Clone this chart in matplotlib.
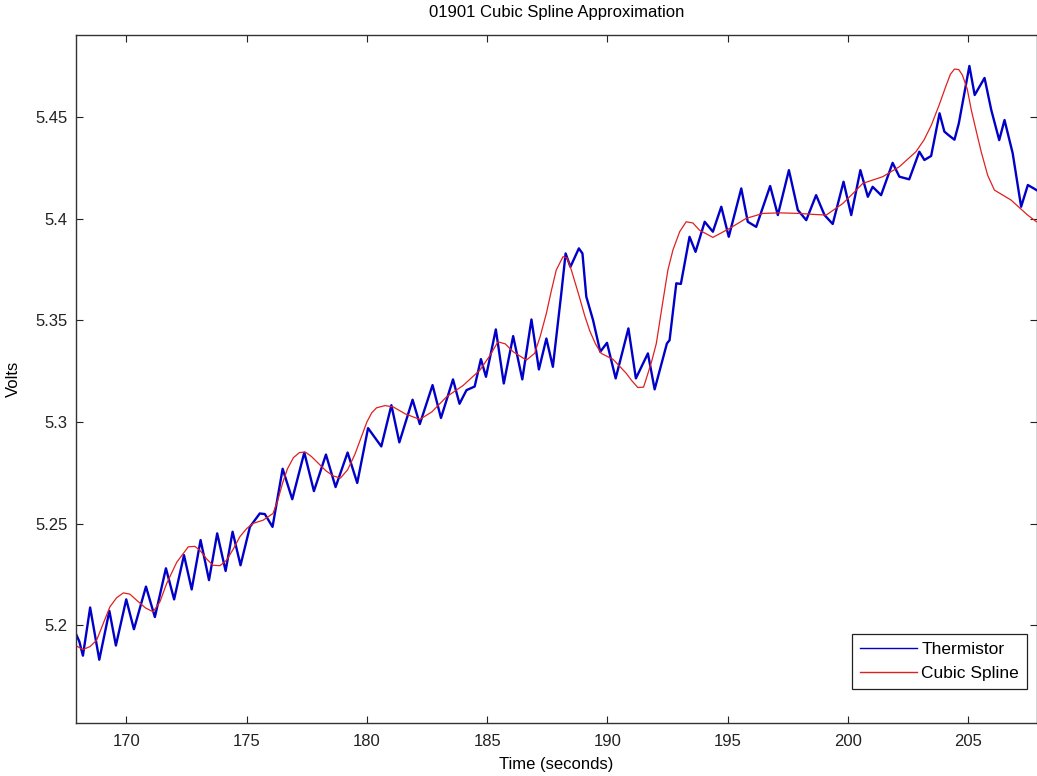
import numpy as np
import matplotlib
matplotlib.use("Agg")
from matplotlib import pyplot as plt

plt.rcParams['font.family'] = ['Liberation Sans', 'DejaVu Sans']

# thermistor trace (seconds, volts)
therm_t = [167.9, 168.05, 168.2, 168.5, 168.88, 169.3, 169.57, 170.0, 170.32, 170.82,
           171.19, 171.65, 171.99, 172.4, 172.72, 173.09, 173.44, 173.78, 174.13, 174.42,
           174.75, 175.14, 175.55, 175.76, 176.08, 176.5, 176.9, 177.4, 177.8, 178.3,
           178.7, 179.2, 179.6, 180.05, 180.6, 181.02, 181.35, 181.9, 182.2, 182.73,
           183.08, 183.58, 183.85, 184.14, 184.48, 184.74, 184.95, 185.36, 185.69, 186.08,
           186.46, 186.84, 187.15, 187.46, 187.73, 188.08, 188.26, 188.46, 188.81, 188.96,
           189.12, 189.4, 189.7, 189.98, 190.34, 190.87, 191.18, 191.68, 191.96, 192.47,
           192.58, 192.86, 193.05, 193.41, 193.66, 194.04, 194.38, 194.73, 195.04, 195.56,
           195.83, 196.18, 196.76, 197.08, 197.54, 197.91, 198.26, 198.67, 199.02, 199.36,
           199.81, 200.13, 200.51, 200.82, 201.02, 201.37, 201.85, 202.13, 202.54, 202.96,
           203.17, 203.45, 203.8, 204.0, 204.2, 204.42, 204.6, 205.04, 205.26, 205.67,
           205.95, 206.28, 206.5, 206.84, 207.19, 207.47, 207.83]
therm_v = [5.196, 5.192, 5.185, 5.2087, 5.183, 5.207, 5.190, 5.2127, 5.198, 5.219,
           5.204, 5.228, 5.2127, 5.2345, 5.2176, 5.2419, 5.2222, 5.2452, 5.2267, 5.246,
           5.2295, 5.2484, 5.255, 5.2547, 5.2484, 5.277, 5.262, 5.285, 5.266, 5.284,
           5.268, 5.285, 5.270, 5.297, 5.288, 5.3083, 5.290, 5.311, 5.299, 5.3182,
           5.302, 5.321, 5.309, 5.3157, 5.3175, 5.331, 5.3223, 5.3456, 5.319, 5.3423,
           5.321, 5.3505, 5.3259, 5.3411, 5.3272, 5.3633, 5.383, 5.3764, 5.3855, 5.383,
           5.3617, 5.3502, 5.3346, 5.339, 5.3215, 5.3461, 5.3215, 5.3338, 5.3161, 5.3387,
           5.3403, 5.3683, 5.368, 5.3912, 5.3838, 5.3986, 5.3937, 5.406, 5.3912, 5.415,
           5.3986, 5.3961, 5.4162, 5.4019, 5.424, 5.4044, 5.3994, 5.4117, 5.4019, 5.3975,
           5.4183, 5.4019, 5.424, 5.4109, 5.4158, 5.4117, 5.4276, 5.4208, 5.4195, 5.4331,
           5.429, 5.431, 5.452, 5.443, 5.441, 5.439, 5.447, 5.4753, 5.461, 5.4694,
           5.4536, 5.4388, 5.4487, 5.4323, 5.406, 5.4167, 5.4142]

# cubic spline curve
spline_t = [167.9, 168.2, 168.5, 168.77, 169.05, 169.32, 169.6, 169.88, 170.15, 170.43,
            170.8, 171.12, 171.4, 171.68, 172.1, 172.58, 172.85, 173.06, 173.35, 173.61,
            173.9, 174.17, 174.45, 174.72, 175.0, 175.27, 175.69, 176.1, 176.3, 176.5,
            176.7, 176.95, 177.2, 177.45, 177.7, 178.0, 178.3, 178.6, 178.9, 179.2,
            179.5, 179.75, 180.0, 180.2, 180.4, 180.75, 181.09, 181.6, 182.2, 182.7,
            183.31, 184.0, 184.7, 185.1, 185.45, 185.75, 186.08, 186.63, 186.97, 187.2,
            187.46, 187.67, 187.87, 188.15, 188.32, 188.5, 188.84, 189.05, 189.26, 189.5,
            189.74, 190.23, 190.78, 191.0, 191.26, 191.5, 191.68, 191.85, 192.03, 192.27,
            192.51, 192.72, 193.0, 193.27, 193.55, 193.82, 194.38, 195.07, 195.77, 196.46,
            197.15, 197.98, 198.6, 199.09, 199.78, 200.2, 200.61, 201.44, 202.13, 202.82,
            203.16, 203.46, 203.78, 204.08, 204.25, 204.42, 204.6, 204.75, 204.95, 205.12,
            205.33, 205.53, 205.8, 206.08, 206.77, 207.46, 207.83]
spline_v = [5.190, 5.188, 5.1895, 5.1926, 5.201, 5.209, 5.2135, 5.2159, 5.2153, 5.2123,
            5.2085, 5.2066, 5.2115, 5.2205, 5.231, 5.2386, 5.2388, 5.2369, 5.2325, 5.2295,
            5.2293, 5.232, 5.2375, 5.2435, 5.2475, 5.2501, 5.2517, 5.255, 5.2616, 5.27,
            5.277, 5.2825, 5.285, 5.2852, 5.283, 5.2795, 5.276, 5.2735, 5.2724, 5.2765,
            5.284, 5.292, 5.300, 5.3045, 5.307, 5.3081, 5.3075, 5.304, 5.3013, 5.305,
            5.3124, 5.318, 5.3256, 5.3325, 5.3395, 5.3385, 5.3346, 5.3305, 5.3338, 5.342,
            5.3535, 5.3648, 5.3748, 5.3814, 5.3808, 5.3748, 5.3613, 5.3525, 5.345, 5.3385,
            5.3338, 5.3309, 5.324, 5.3205, 5.317, 5.3172, 5.3239, 5.3305, 5.3387, 5.357,
            5.3748, 5.3847, 5.3937, 5.3986, 5.398, 5.3945, 5.3909, 5.3953, 5.4003, 5.4027,
            5.403, 5.4027, 5.4022, 5.4019, 5.4076, 5.4125, 5.4175, 5.4208, 5.4257, 5.4331,
            5.439, 5.4462, 5.456, 5.4659, 5.4712, 5.4738, 5.4735, 5.4708, 5.464, 5.4536,
            5.443, 5.4331, 5.4215, 5.4142, 5.4093, 5.4019, 5.3986]

xticks = [170, 175, 180, 185, 190, 195, 200, 205]
yticks = [5.2, 5.25, 5.3, 5.35, 5.4, 5.45]
ytick_labels = ['5.2', '5.25', '5.3', '5.35', '5.4', '5.45']

fig = plt.figure(figsize=(10.37, 7.76), dpi=100)
ax = fig.add_axes([0.073, 0.0687, 0.927, 0.8866])

ax.plot(therm_t, therm_v, color='#0000c8', lw=1.7, label='Thermistor')
ax.plot(spline_t, spline_v, color='#e02020', lw=0.9, label='Cubic Spline')

ax.set_xlim(167.9, 207.85)
ax.set_ylim(5.152, 5.4907)
ax.set_xticks(xticks)
ax.set_yticks(yticks)
ax.set_yticklabels(ytick_labels)
ax.tick_params(direction='in', length=5, width=0.8, top=True, right=True,
               labelsize=12, pad=8, colors='#222222')
ax.tick_params(axis='y', pad=6)
for s in ax.spines.values():
    s.set_linewidth(1.0)
    s.set_color('#333333')

ax.set_title('01901 Cubic Spline Approximation', fontsize=12, pad=12.5)
ax.set_xlabel('Time (seconds)', fontsize=12, labelpad=6)
ax.set_ylabel('Volts', fontsize=12, labelpad=10)

leg = ax.legend(loc='lower right', bbox_to_anchor=(0.9896, 0.049), borderaxespad=0,
                fontsize=12.5, frameon=True, fancybox=False, framealpha=1,
                edgecolor='#222222', handlelength=3.3, borderpad=0.45,
                labelspacing=0.5, handletextpad=0.25)
leg.get_frame().set_linewidth(0.9)
for h in leg.get_lines():
    h.set_linewidth(1.0)

fig.savefig('out.png', dpi=100)
